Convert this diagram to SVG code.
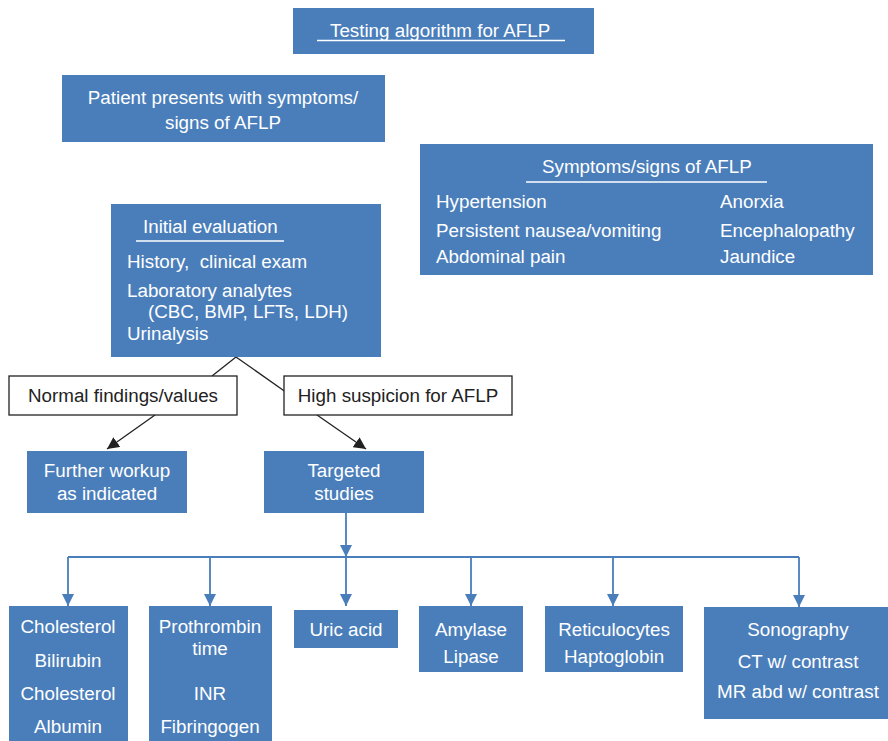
<svg xmlns="http://www.w3.org/2000/svg" width="888" height="741" viewBox="0 0 888 741">
<defs>
<style>
.b{fill:#4a7ebb}
.w{fill:#fff;stroke:#222;stroke-width:1.3}
text{font-family:"Liberation Sans",Arial,sans-serif;font-size:18.8px}
.t{fill:#fff}
.k{fill:#222}
.c{text-anchor:middle}
.u{stroke:#fff;stroke-width:1.5}
.bl{stroke:#222;stroke-width:1.3;fill:none}
.ln{stroke:#4a7ebb;stroke-width:1.8;fill:none}
</style>
<marker id="ak" markerWidth="12" markerHeight="12" viewBox="0 0 12 12" refX="12" refY="6" orient="auto" markerUnits="userSpaceOnUse"><path d="M0,0 L12,6 L0,12 Z" fill="#222"/></marker>
<marker id="ab" markerWidth="12" markerHeight="12" viewBox="0 0 12 12" refX="12" refY="6" orient="auto" markerUnits="userSpaceOnUse"><path d="M0,0 L12,6 L0,12 Z" fill="#4a7ebb"/></marker>
</defs>
<rect width="888" height="741" fill="#fff"/>
<g id="connectors">
<line class="bl" x1="236" y1="357" x2="212" y2="376"/>
<line class="bl" x1="236" y1="357" x2="290" y2="395"/>
<line class="bl" x1="155" y1="415" x2="107" y2="449" marker-end="url(#ak)"/>
<line class="bl" x1="317" y1="415" x2="366" y2="449" marker-end="url(#ak)"/>
<line class="ln" x1="346" y1="513" x2="346" y2="557" marker-end="url(#ab)"/>
<line class="ln" x1="68" y1="557" x2="799" y2="557"/>
<line class="ln" x1="68" y1="557" x2="68" y2="606" marker-end="url(#ab)"/>
<line class="ln" x1="210" y1="557" x2="210" y2="606" marker-end="url(#ab)"/>
<line class="ln" x1="346" y1="557" x2="346" y2="606" marker-end="url(#ab)"/>
<line class="ln" x1="471" y1="557" x2="471" y2="606" marker-end="url(#ab)"/>
<line class="ln" x1="613" y1="557" x2="613" y2="606" marker-end="url(#ab)"/>
<line class="ln" x1="799" y1="557" x2="799" y2="607" marker-end="url(#ab)"/>
</g>
<g id="title">
<rect class="b" x="293" y="8" width="301" height="46"/>
<text class="t" x="330" y="37">Testing algorithm for AFLP</text>
<line class="u" x1="317" y1="40.5" x2="565" y2="40.5"/>
</g>
<g id="patient">
<rect class="b" x="62" y="75" width="323" height="67"/>
<text class="t c" x="223" y="104">Patient presents with symptoms/</text>
<text class="t c" x="223" y="129">signs of AFLP</text>
</g>
<g id="symptoms">
<rect class="b" x="420" y="144" width="453" height="131"/>
<text class="t" x="542" y="173">Symptoms/signs of AFLP</text>
<line class="u" x1="526" y1="182" x2="767" y2="182"/>
<text class="t" x="436" y="208">Hypertension</text>
<text class="t" x="436" y="237">Persistent nausea/vomiting</text>
<text class="t" x="436" y="263">Abdominal pain</text>
<text class="t" x="720" y="208">Anorxia</text>
<text class="t" x="720" y="237">Encephalopathy</text>
<text class="t" x="720" y="263">Jaundice</text>
</g>
<g id="initial">
<rect class="b" x="111" y="204" width="270" height="153"/>
<text class="t" x="143" y="233">Initial evaluation</text>
<line class="u" x1="136" y1="241" x2="284" y2="241"/>
<text class="t" x="127" y="268" xml:space="preserve">History,  clinical exam</text>
<text class="t" x="127" y="297">Laboratory analytes</text>
<text class="t" x="148" y="318">(CBC, BMP, LFTs, LDH)</text>
<text class="t" x="127" y="340">Urinalysis</text>
</g>
<g id="normal">
<rect class="w" x="9" y="376" width="228" height="39"/>
<text class="k c" x="123" y="402">Normal findings/values</text>
</g>
<g id="high">
<rect class="w" x="284" y="376" width="228" height="39"/>
<text class="k c" x="398" y="402">High suspicion for AFLP</text>
</g>
<g id="further">
<rect class="b" x="27" y="451" width="160" height="62"/>
<text class="t c" x="107" y="477">Further workup</text>
<text class="t c" x="107" y="500">as indicated</text>
</g>
<g id="targeted">
<rect class="b" x="264" y="451" width="160" height="62"/>
<text class="t c" x="344" y="477">Targeted</text>
<text class="t c" x="344" y="500">studies</text>
</g>
<g id="chol">
<rect class="b" x="9" y="606" width="119" height="140"/>
<text class="t c" x="68" y="633">Cholesterol</text>
<text class="t c" x="68" y="667">Bilirubin</text>
<text class="t c" x="68" y="700">Cholesterol</text>
<text class="t c" x="68" y="733">Albumin</text>
</g>
<g id="pt">
<rect class="b" x="149" y="606" width="123" height="140"/>
<text class="t c" x="210" y="633">Prothrombin</text>
<text class="t c" x="210" y="655">time</text>
<text class="t c" x="210" y="700">INR</text>
<text class="t c" x="210" y="733">Fibringogen</text>
</g>
<g id="uric">
<rect class="b" x="294" y="610" width="104" height="38"/>
<text class="t c" x="346" y="636">Uric acid</text>
</g>
<g id="amylase">
<rect class="b" x="419" y="606" width="104" height="66"/>
<text class="t c" x="471" y="636">Amylase</text>
<text class="t c" x="471" y="663">Lipase</text>
</g>
<g id="retic">
<rect class="b" x="545" y="606" width="138" height="66"/>
<text class="t c" x="614" y="636">Reticulocytes</text>
<text class="t c" x="614" y="663">Haptoglobin</text>
</g>
<g id="imaging">
<rect class="b" x="704" y="607" width="184" height="112"/>
<text class="t c" x="798" y="636">Sonography</text>
<text class="t c" x="798" y="668">CT w/ contrast</text>
<text class="t c" x="798" y="698">MR abd w/ contrast</text>
</g>
</svg>
